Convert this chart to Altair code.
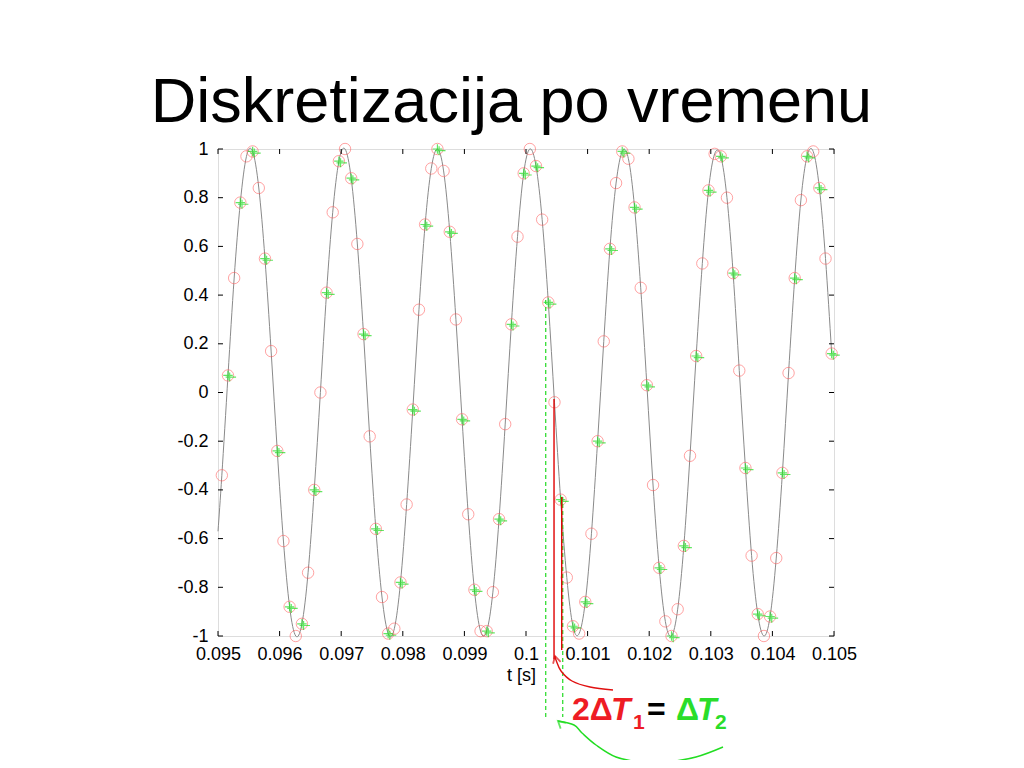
import altair as alt
import pandas as pd

# ---------------- data ----------------
# sampling of the red series (every 0.1 ms); green = every second red sample
T_START = 0.0950623
DT1 = 0.0001
red_vals = [-0.34, 0.07, 0.47, 0.78, 0.97, 0.99, 0.84, 0.55, 0.17, -0.24,
            -0.61, -0.88, -1.00, -0.95, -0.74, -0.40, 0.00, 0.41, 0.74, 0.95,
            1.00, 0.88, 0.61, 0.24, -0.18, -0.56, -0.84, -0.99, -0.97, -0.78,
            -0.46, -0.07, 0.34, 0.69, 0.92, 1.00, 0.91, 0.66, 0.30, -0.11,
            -0.50, -0.81, -0.98, -0.98, -0.82, -0.52, -0.13, 0.28, 0.64, 0.90,
            1.00, 0.93, 0.71, 0.37, -0.04, -0.44, -0.76, -0.96, -0.99, -0.86,
            -0.58, -0.20, 0.21, 0.59, 0.86, 0.99, 0.96, 0.76, 0.43, 0.03,
            -0.38, -0.72, -0.94, -1.00, -0.89, -0.63, -0.26, 0.15, 0.53, 0.83,
            0.98, 0.97, 0.80, 0.49, 0.09, -0.31, -0.67, -0.91, -1.00, -0.92,
            -0.68, -0.33, 0.08, 0.47, 0.79, 0.97, 0.99, 0.84, 0.55, 0.16]
edge_t = [0.095]
edge_v = [-0.57]

x_ticks = [0.095, 0.096, 0.097, 0.098, 0.099, 0.1, 0.101, 0.102, 0.103, 0.104, 0.105]
y_ticks = [-1, -0.8, -0.6, -0.4, -0.2, 0, 0.2, 0.4, 0.6, 0.8, 1]

# annotation geometry (data units)
green_dash_t = [0.100320, 0.100596]
green_dash_top = [0.380, -0.429]
green_dash_bottom = -1.333
red_line_t = [0.100455, 0.100580]
red_line_top = [-0.027, -0.429]
red_line_bottom = [-1.095, -1.057]

red_arrow_t = [0.1014123, 0.1010390, 0.1007468, 0.1005682, 0.1004870, 0.1004708]
red_arrow_v = [-1.2218, -1.2094, -1.1848, -1.1437, -1.0986, -1.0821]
green_arrow_t = [0.1031981, 0.1027597, 0.1022727, 0.1018669, 0.1014610, 0.1011364, 0.1009091, 0.1007792, 0.1005195]
green_arrow_v = [-1.4559, -1.4969, -1.5175, -1.5175, -1.4969, -1.4476, -1.3984, -1.3655, -1.3491]

TITLE = "Diskretizacija po vremenu"

# ---------------- helpers ----------------
FONT = "Liberation Sans"
xs = alt.Scale(domain=[0.095, 0.105], nice=False, zero=False)
ys = alt.Scale(domain=[-1, 1], nice=False, zero=False)

AX_X = alt.Axis(
    values=x_ticks, title="t [s]", labelExpr="'' + datum.value", grid=False,
    ticks=False, tickSize=0, domain=False, labelPadding=9, labelFontSize=18,
    labelFont=FONT, labelColor="#000", titleFont=FONT, titleFontSize=18,
    titleFontWeight="normal", titleColor="#000", titlePadding=3, titleX=303,
    labelFlush=False, labelOverlap=False)
AX_Y = alt.Axis(
    values=y_ticks, title=None, labelExpr="'' + datum.value", grid=False,
    ticks=False, tickSize=0, domain=False, labelPadding=10, labelFontSize=18,
    labelFont=FONT, labelColor="#000", labelFlush=False, labelOverlap=False)


def X(field="t"):
    return alt.X(f"{field}:Q", scale=xs, axis=AX_X)


def Y(field="v"):
    return alt.Y(f"{field}:Q", scale=ys, axis=AX_Y)


samples = pd.DataFrame({"t": [T_START + i * DT1 for i in range(len(red_vals))], "v": red_vals})
green = samples.iloc[1::2].reset_index(drop=True)
line_df = pd.concat([pd.DataFrame({"t": edge_t, "v": edge_v}), samples], ignore_index=True)

line = alt.Chart(line_df).mark_line(color="#8a8a8a", strokeWidth=1, interpolate="natural").encode(
    x=X(), y=Y())

red_pts = alt.Chart(samples).mark_point(
    shape="circle", size=130, filled=False, color="#ff5a5a", strokeWidth=0.8
).encode(x=X(), y=Y())

PLUS = "M-1,0L1,0M0,-1L0,1M-0.5,0.35L1.7,0.35M0.35,-0.6L0.35,1.3"
green_pts = alt.Chart(green).mark_point(
    shape=PLUS, size=90, filled=False, color="#22dd22", strokeWidth=1.2
).encode(x=X(), y=Y())

# inward tick marks on all four sides
tk = 0.0205
tkx = 0.000081
ticks_b = alt.Chart(pd.DataFrame({"t": x_ticks})).mark_rule(color="#000", strokeWidth=1).encode(
    x=X(), y=Y("a"), y2="b:Q"
).transform_calculate(a="-1", b=f"-1 + {tk}")
ticks_t = alt.Chart(pd.DataFrame({"t": x_ticks})).mark_rule(color="#000", strokeWidth=1).encode(
    x=X(), y=Y("a"), y2="b:Q"
).transform_calculate(a="1", b=f"1 - {tk}")
ticks_l = alt.Chart(pd.DataFrame({"v": y_ticks})).mark_rule(color="#000", strokeWidth=1).encode(
    y=Y(), x=X("a"), x2="b:Q"
).transform_calculate(a="0.095", b=f"0.095 + {tkx}")
ticks_r = alt.Chart(pd.DataFrame({"v": y_ticks})).mark_rule(color="#000", strokeWidth=1).encode(
    y=Y(), x=X("a"), x2="b:Q"
).transform_calculate(a="0.105", b=f"0.105 - {tkx}")

# dashed green and solid red markers of the sampling interval
gdash = alt.Chart(pd.DataFrame({"t": green_dash_t, "v": green_dash_top, "v2": [green_dash_bottom] * 2})).mark_rule(
    color="#33dd33", strokeWidth=1.3, strokeDash=[4, 3]
).encode(x=X(), y=Y(), y2="v2:Q")
rline = alt.Chart(pd.DataFrame({"t": red_line_t, "v": red_line_top, "v2": red_line_bottom})).mark_rule(
    color="#e00000", strokeWidth=1.4
).encode(x=X(), y=Y(), y2="v2:Q")

# curved arrows
red_arrow = alt.Chart(pd.DataFrame({"t": red_arrow_t, "v": red_arrow_v, "o": list(range(len(red_arrow_t)))})).mark_line(
    color="#e01010", strokeWidth=1.4, interpolate="cardinal"
).encode(x=X(), y=Y(), order="o:Q")
green_arrow = alt.Chart(pd.DataFrame({"t": green_arrow_t, "v": green_arrow_v, "o": list(range(len(green_arrow_t)))})).mark_line(
    color="#22dd22", strokeWidth=1.4, interpolate="cardinal"
).encode(x=X(), y=Y(), order="o:Q")

CHEV = "M-0.55,1L0,0L0.55,1"
red_head = alt.Chart(pd.DataFrame({"t": red_arrow_t[-1:], "v": red_arrow_v[-1:]})).mark_point(
    shape=CHEV, size=200, filled=False, color="#e01010", strokeWidth=1.8, angle=345
).encode(x=X(), y=Y())
green_head = alt.Chart(pd.DataFrame({"t": green_arrow_t[-1:], "v": green_arrow_v[-1:]})).mark_point(
    shape=CHEV, size=200, filled=False, color="#22dd22", strokeWidth=1.8, angle=312
).encode(x=X(), y=Y())


def txt(t, v, s, color, size, italic=False, font=FONT, weight="bold", align="left"):
    return alt.Chart(pd.DataFrame({"t": [t], "v": [v], "s": [s]})).mark_text(
        align=align, baseline="alphabetic", color=color, fontSize=size, font=font,
        fontWeight=weight, fontStyle="italic" if italic else "normal"
    ).encode(x=X(), y=Y(), text="s:N")


RED = "#ee1c24"
GRN = "#2add2a"
eq = [
    txt(0.1007468, -1.345, "2Δ", RED, 32),
    txt(0.1013799, -1.345, "T", RED, 32, italic=True),
    txt(0.1017370, -1.382, "1", RED, 21),
    txt(0.1019643, -1.345, "=", "#000", 32),
    txt(0.1024351, -1.345, "Δ", GRN, 32),
    txt(0.1027760, -1.345, "T", GRN, 32, italic=True),
    txt(0.1030684, -1.382, "2", GRN, 21),
]

title = txt(0.0997646, 1.1109, TITLE, "#000", 63, weight="normal", align="center")

chart = alt.layer(
    line, red_pts, green_pts, ticks_b, ticks_t, ticks_l, ticks_r,
    gdash, rline, red_arrow, green_arrow, red_head, green_head, *eq, title
).properties(
    width=616, height=487,
    autosize=alt.AutoSizeParams(type="none"),
    padding={"left": 210, "top": 141, "right": 150, "bottom": 124},
).configure_view(stroke="#000", strokeWidth=1).configure(background="white")

chart.save("out.html", embed_options={"renderer": "svg", "actions": False})
